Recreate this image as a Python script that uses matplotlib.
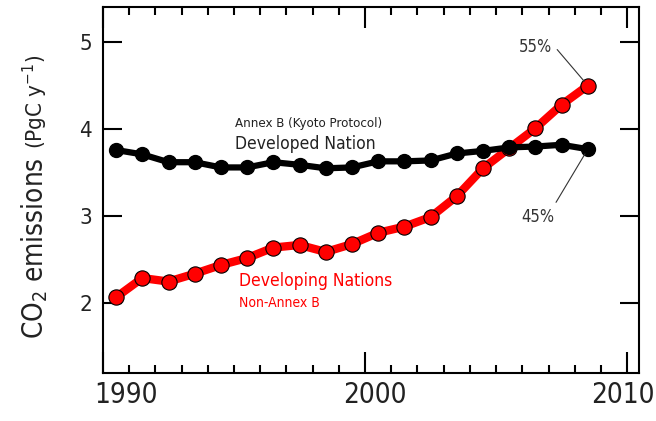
import matplotlib.pyplot as plt
import matplotlib.transforms as mtransforms
import numpy as np

plt.rcParams['font.family'] = ['DejaVu Sans']
plt.rcParams['font.stretch'] = 'condensed'
plt.rcParams['mathtext.fontset'] = 'custom'
plt.rcParams['mathtext.rm'] = 'DejaVu Sans:stretch=condensed'
plt.rcParams['mathtext.it'] = 'DejaVu Sans:stretch=condensed'
plt.rcParams['mathtext.bf'] = 'DejaVu Sans:stretch=condensed:weight=bold'

# years are plotted at mid-year
years = np.arange(1990, 2009) + 0.5
developed = [3.76, 3.71, 3.62, 3.62, 3.56, 3.56, 3.62, 3.59, 3.55, 3.56,
             3.63, 3.63, 3.64, 3.72, 3.75, 3.79, 3.80, 3.82, 3.77]
developing = [2.07, 2.29, 2.25, 2.34, 2.44, 2.52, 2.64, 2.67, 2.59, 2.68,
              2.81, 2.88, 2.99, 3.23, 3.55, 3.78, 4.01, 4.28, 4.50]
share_dev, share_ing = "45%", "55%"

fig = plt.figure(figsize=(6.56, 4.21), dpi=100)
ax = fig.add_axes([0.157, 0.114, 0.817, 0.869])

ax.plot(years, developing, color='#ff0000', lw=6, marker='o', ms=11,
        mfc='#ff0000', mec='black', mew=0.8, zorder=2)
ax.plot(years, developed, color='black', lw=4.5, marker='o', ms=10,
        mfc='black', mec='black', zorder=3)

ax.set_xlim(1990, 2010.45)
ax.set_ylim(1.2, 5.4)

ax.set_xticks([1990, 2000, 2010])
ax.set_xticklabels(['1990', '2000', '2010'], fontsize=20, color='#222222')
ax.set_xticks(np.arange(1991, 2011), minor=True)
ax.set_yticks([2, 3, 4, 5])
ax.set_yticklabels(['2', '3', '4', '5'], fontsize=16, color='#222222')
ax.tick_params(axis='both', which='both', direction='in', top=True, right=True, width=1.5)
ax.tick_params(axis='x', which='major', length=15, pad=6)
ax.tick_params(axis='x', which='minor', length=6)
ax.tick_params(axis='y', which='major', length=14, pad=8)
for s in ax.spines.values():
    s.set_linewidth(1.5)

# nudge the year labels like in the original
for lab, dx in zip(ax.get_xticklabels(), [23, 10, -4]):
    lab.set_transform(lab.get_transform() +
                      mtransforms.ScaledTranslation(dx / 100, 0, fig.dpi_scale_trans))

fig.text(0.066, 0.195, r'CO$_\mathrm{2}$ emissions', rotation=90, fontsize=20, color='#222222',
         ha='left', va='baseline', rotation_mode='anchor')
fig.text(0.066, 0.645, r'(PgC y$^\mathrm{-1}$)', rotation=90, fontsize=16, color='#222222',
         ha='left', va='baseline', rotation_mode='anchor')

ax.text(1995.05, 4.02, 'Annex B (Kyoto Protocol)', fontsize=9.5, color='#222222')
ax.text(1995.05, 3.77, 'Developed Nation', fontsize=12.5, color='#222222')
ax.text(1995.2, 2.2, 'Developing Nations', fontsize=12.5, color='#ff0000')
ax.text(1995.2, 1.96, 'Non-Annex B', fontsize=10, color='#ff0000')

ax.annotate(share_ing, xy=(years[-1], developing[-1]), xytext=(2006.5, 4.88),
            fontsize=12, color='#333333', ha='center',
            arrowprops=dict(arrowstyle='-', lw=0.8, color='#333333',
                            shrinkA=2, shrinkB=4, relpos=(1.1, 0.5)))
ax.annotate(share_dev, xy=(years[-1], developed[-1]), xytext=(2006.6, 2.93),
            fontsize=12, color='#333333', ha='center',
            arrowprops=dict(arrowstyle='-', lw=0.8, color='#333333',
                            shrinkA=2, shrinkB=4, relpos=(1.0, 1.2)))

fig.savefig('out.png', dpi=100)
